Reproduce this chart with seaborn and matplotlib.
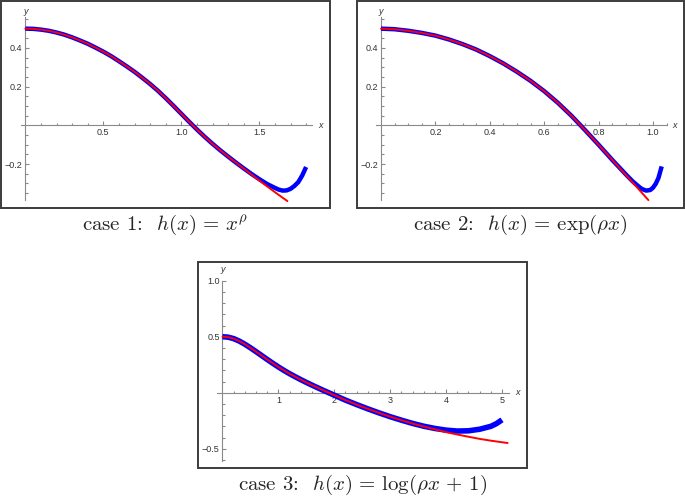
import numpy as np
import matplotlib
matplotlib.use("Agg")
import matplotlib.pyplot as plt
import seaborn as sns
from matplotlib.patches import Rectangle

sns.set_style("white")
plt.rcParams["font.family"] = ["Liberation Sans", "DejaVu Sans"]
plt.rcParams["mathtext.fontset"] = "cm"

# case 1: h(x) = x^rho
case1_exact_x = [0.0, 0.05, 0.1, 0.15, 0.2, 0.25, 0.3, 0.35, 0.4, 0.45, 0.5, 0.55,
                 0.6, 0.65, 0.7, 0.75, 0.8, 0.85, 0.9, 0.95, 1.0, 1.05, 1.1, 1.15,
                 1.2, 1.25, 1.3, 1.35, 1.4, 1.45, 1.5, 1.55, 1.6, 1.65, 1.68]
case1_exact_y = [0.500, 0.499, 0.495, 0.489, 0.480, 0.469, 0.455, 0.439, 0.422,
                 0.402, 0.381, 0.358, 0.332, 0.305, 0.277, 0.246, 0.214, 0.179,
                 0.141, 0.101, 0.060, 0.019, -0.021, -0.059, -0.095, -0.129,
                 -0.161, -0.192, -0.223, -0.254, -0.285, -0.315, -0.345, -0.374,
                 -0.391]
case1_approx_x = [0.0, 0.05, 0.1, 0.15, 0.2, 0.25, 0.3, 0.35, 0.4, 0.45, 0.5, 0.55,
                  0.6, 0.65, 0.7, 0.75, 0.8, 0.85, 0.9, 0.95, 1.0, 1.05, 1.1, 1.15,
                  1.2, 1.25, 1.3, 1.35, 1.4, 1.45, 1.5, 1.55, 1.6, 1.625, 1.65,
                  1.675, 1.7, 1.725, 1.75, 1.775, 1.8]
case1_approx_y = [0.500, 0.499, 0.495, 0.489, 0.480, 0.469, 0.455, 0.439, 0.422,
                  0.402, 0.381, 0.358, 0.332, 0.305, 0.277, 0.246, 0.214, 0.179,
                  0.141, 0.101, 0.060, 0.019, -0.021, -0.059, -0.095, -0.129,
                  -0.161, -0.192, -0.222, -0.251, -0.278, -0.303, -0.323, -0.332,
                  -0.337, -0.336, -0.328, -0.313, -0.293, -0.259, -0.215]

# case 2: h(x) = exp(rho x)
case2_exact_x = [0.0, 0.05, 0.1, 0.15, 0.2, 0.25, 0.3, 0.35, 0.4, 0.45, 0.5,
                 0.55, 0.6, 0.65, 0.7, 0.75, 0.8, 0.85, 0.9, 0.95, 0.983]
case2_exact_y = [0.500, 0.497, 0.489, 0.478, 0.464, 0.444, 0.420, 0.392, 0.358,
                 0.320, 0.277, 0.230, 0.177, 0.117, 0.050, -0.024, -0.100,
                 -0.178, -0.256, -0.334, -0.386]
case2_approx_x = [0.0, 0.05, 0.1, 0.15, 0.2, 0.25, 0.3, 0.35, 0.4, 0.45, 0.5,
                  0.55, 0.6, 0.65, 0.7, 0.75, 0.8, 0.85, 0.9, 0.925, 0.95, 0.96,
                  0.975, 0.99, 1.0, 1.01, 1.02, 1.032]
case2_approx_y = [0.500, 0.497, 0.489, 0.478, 0.464, 0.444, 0.420, 0.392, 0.358,
                  0.320, 0.277, 0.230, 0.177, 0.117, 0.050, -0.024, -0.100,
                  -0.178, -0.253, -0.289, -0.319, -0.329, -0.337, -0.334, -0.322,
                  -0.302, -0.272, -0.212]

# case 3: h(x) = log(rho x + 1)
case3_exact_x = [0.0, 0.1, 0.2, 0.3, 0.4, 0.5, 0.6, 0.7, 0.8, 0.9, 1.0, 1.1, 1.2,
                 1.3, 1.4, 1.5, 1.6, 1.7, 1.8, 1.9, 2.0, 2.2, 2.4, 2.6, 2.8, 3.0,
                 3.2, 3.4, 3.6, 3.8, 4.0, 4.2, 4.4, 4.6, 4.8, 5.0, 5.1]
case3_exact_y = [0.500, 0.496, 0.483, 0.461, 0.433, 0.401, 0.367, 0.332, 0.297,
                 0.263, 0.230, 0.199, 0.170, 0.143, 0.117, 0.092, 0.068, 0.045,
                 0.022, 0.000, -0.022, -0.066, -0.106, -0.144, -0.180, -0.214,
                 -0.245, -0.275, -0.302, -0.327, -0.352, -0.373, -0.393, -0.412,
                 -0.428, -0.442, -0.449]
case3_approx_x = [0.0, 0.1, 0.2, 0.3, 0.4, 0.5, 0.6, 0.7, 0.8, 0.9, 1.0, 1.1, 1.2,
                  1.3, 1.4, 1.5, 1.6, 1.7, 1.8, 1.9, 2.0, 2.2, 2.4, 2.6, 2.8, 3.0,
                  3.2, 3.4, 3.6, 3.8, 4.0, 4.2, 4.4, 4.6, 4.8, 4.9, 5.0]
case3_approx_y = [0.500, 0.496, 0.483, 0.461, 0.433, 0.401, 0.367, 0.332, 0.297,
                  0.263, 0.230, 0.199, 0.170, 0.143, 0.117, 0.092, 0.068, 0.045,
                  0.022, 0.000, -0.022, -0.066, -0.106, -0.144, -0.180, -0.214,
                  -0.245, -0.274, -0.299, -0.319, -0.334, -0.342, -0.340, -0.326,
                  -0.300, -0.276, -0.242]

captions = [r"case 1:  $h(x)\,=\,x^{\rho}$",
            r"case 2:  $h(x)\,=\,\exp(\rho x)$",
            r"case 3:  $h(x)\,=\,\log(\rho x\,+\,1)$"]

W, H = 685, 497
fig = plt.figure(figsize=(W / 100, H / 100), dpi=100)

axis_grey = "#8a8a8a"
label_grey = "#333333"


def make_panel(px_box, xlim, ylim, xb, yb, xmaj, xmin, ymaj, ymin,
               xfmt, yfmt, xlab_pos, ylab_pos):
    l, t, r, b = px_box
    ax = fig.add_axes([l / W, 1 - b / H, (r - l) / W, (b - t) / H])
    ax.set_facecolor("none")
    ax.set_xlim(*xlim)
    ax.set_ylim(*ylim)
    for s in ["top", "right"]:
        ax.spines[s].set_visible(False)
    ax.spines["bottom"].set_position(("data", 0))
    ax.spines["left"].set_position(("data", 0))
    ax.spines["bottom"].set_bounds(*xb)
    ax.spines["left"].set_bounds(*yb)
    for s in ["bottom", "left"]:
        ax.spines[s].set_color(axis_grey)
        ax.spines[s].set_linewidth(0.8)
    ax.set_xticks(xmaj)
    ax.set_xticks(xmin, minor=True)
    ax.set_yticks(ymaj)
    ax.set_yticks(ymin, minor=True)
    ax.set_xticklabels([xfmt.format(v) for v in xmaj])
    ax.set_yticklabels([yfmt.format(v).replace("-", "\u2212") for v in ymaj])
    ax.tick_params(which="both", direction="in", color=axis_grey, width=0.8,
                   labelsize=6.5, labelcolor=label_grey, pad=2)
    ax.tick_params(which="major", length=3)
    ax.tick_params(which="minor", length=1.8)
    ax.tick_params(axis="x", which="both", bottom=True, top=False)
    ax.tick_params(axis="y", which="both", left=True, right=False)
    ax.text(xlab_pos[0], xlab_pos[1], "x", fontsize=6.5, style="italic",
            color=label_grey, ha="center", va="center")
    ax.text(ylab_pos[0], ylab_pos[1], "y", fontsize=6.5, style="italic",
            color=label_grey, ha="center", va="center")
    ax.add_patch(Rectangle((0, 0), 1, 1, transform=ax.transAxes, fill=False,
                           edgecolor="#3c3c3c", linewidth=1.4, clip_on=False))
    return ax


def draw_curves(ax, ax_x, ax_y, ex_x, ex_y, blue_lw):
    sns.lineplot(x=ax_x, y=ax_y, ax=ax, color="#0000ff", linewidth=blue_lw,
                 estimator=None, sort=False, zorder=3, solid_capstyle="butt",
                 solid_joinstyle="round")
    sns.lineplot(x=ex_x, y=ex_y, ax=ax, color="#ff0000", linewidth=1.4,
                 estimator=None, sort=False, zorder=4, solid_joinstyle="round")
    ax.set_xlabel("")
    ax.set_ylabel("")


def minor_ticks(start, stop, step, majors):
    vals = np.round(np.arange(start, stop + step / 2, step), 4)
    return [v for v in vals if abs(v) > 1e-9 and not np.any(np.isclose(v, majors))]


# panel 1
ax1 = make_panel((1, 1, 330, 208), (-0.1558, 1.9532), (-0.4269, 0.6429),
                 (-0.03, 1.836), (-0.385, 0.56),
                 [0.5, 1.0, 1.5], minor_ticks(0.1, 1.8, 0.1, [0.5, 1.0, 1.5]),
                 [-0.2, 0.2, 0.4], minor_ticks(-0.35, 0.55, 0.05, [-0.2, 0.2, 0.4]),
                 "{:.1f}", "{:.1f}", (1.89, 0.0), (0.0, 0.59))
draw_curves(ax1, case1_approx_x, case1_approx_y, case1_exact_x, case1_exact_y, 3.2)

# panel 2
ax2 = make_panel((357, 1, 684, 208), (-0.0882, 1.1140), (-0.4269, 0.6429),
                 (-0.02, 1.05), (-0.385, 0.56),
                 [0.2, 0.4, 0.6, 0.8, 1.0],
                 minor_ticks(0.05, 1.05, 0.05, [0.2, 0.4, 0.6, 0.8, 1.0]),
                 [-0.2, 0.2, 0.4], minor_ticks(-0.35, 0.55, 0.05, [-0.2, 0.2, 0.4]),
                 "{:.1f}", "{:.1f}", (1.081, 0.0), (0.0, 0.59))
draw_curves(ax2, case2_approx_x, case2_approx_y, case2_exact_x, case2_exact_y, 3.2)

# panel 3
ax3 = make_panel((198, 262, 527, 468), (-0.438, 5.447), (-0.672, 1.167),
                 (-0.1, 5.12), (-0.61, 1.0),
                 [1, 2, 3, 4, 5], minor_ticks(0.2, 5.0, 0.2, [1, 2, 3, 4, 5]),
                 [-0.5, 0.5, 1.0], minor_ticks(-0.6, 1.0, 0.1, [-0.5, 0.5, 1.0]),
                 "{:d}", "{:.1f}", (5.28, 0.0), (0.0, 1.1))
draw_curves(ax3, case3_approx_x, case3_approx_y, case3_exact_x, case3_exact_y, 4.0)

fig.text(165.5 / W, 1 - 225 / H, captions[0], fontsize=15, family="cmr10",
         ha="center", va="center")
fig.text(520.5 / W, 1 - 225 / H, captions[1], fontsize=15, family="cmr10",
         ha="center", va="center")
fig.text(362.5 / W, 1 - 485 / H, captions[2], fontsize=15, family="cmr10",
         ha="center", va="center")

fig.savefig("out.png", dpi=100)
